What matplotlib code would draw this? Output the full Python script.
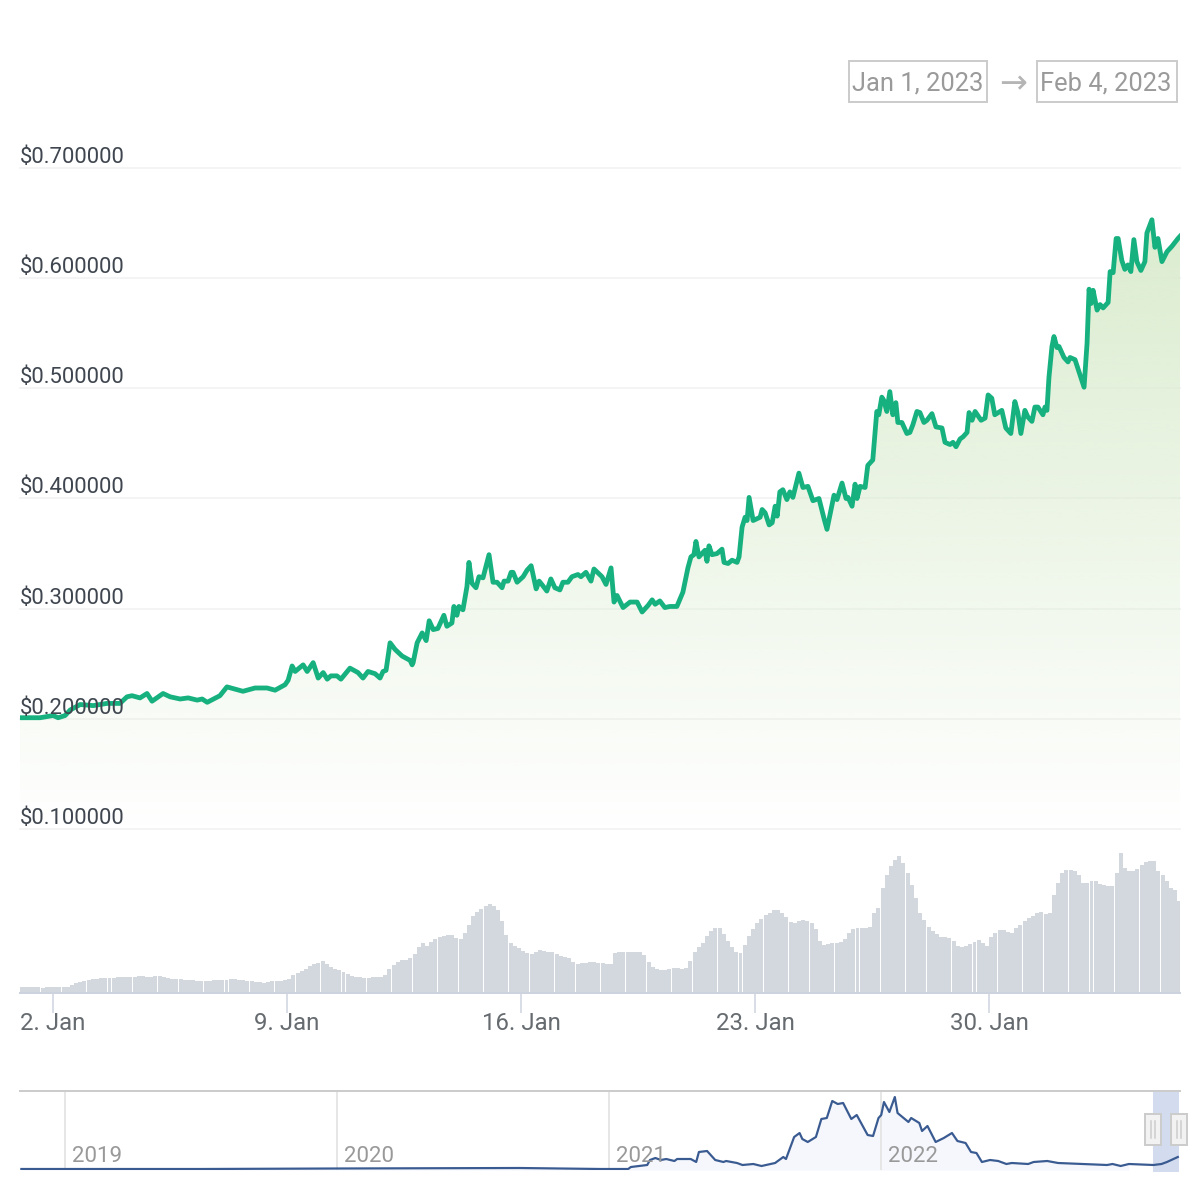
#!/usr/bin/env python
# coding: utf-8

import numpy as np
import matplotlib
matplotlib.use("Agg")
import matplotlib.pyplot as plt
from matplotlib.patches import Rectangle
from matplotlib.lines import Line2D
from matplotlib.colors import to_rgb
from matplotlib.transforms import offset_copy

plt.rcParams['font.family'] = ['Roboto', 'DejaVu Sans']

# price: days since Jan 1 2023, usd
days = [0.01, 0.61, 1.00, 1.15, 1.36, 1.51, 1.81, 2.20, 2.61, 3.00, 3.21, 3.36, 3.60, 3.81, 3.96, 4.29, 4.50, 4.80, 5.04, 5.31,
	5.46, 5.61, 5.99, 6.20, 6.68, 7.04, 7.40, 7.64, 7.94, 8.03, 8.15, 8.24, 8.48, 8.60, 8.78, 8.93, 9.08, 9.20, 9.31, 9.49,
	9.61, 9.88, 10.12, 10.27, 10.42, 10.63, 10.78, 10.87, 10.96, 11.08, 11.23, 11.44, 11.68, 11.74, 11.77, 11.89, 12.04, 12.16, 12.25, 12.37,
	12.51, 12.69, 12.78, 12.93, 12.99, 13.08, 13.14, 13.26, 13.38, 13.44, 13.53, 13.65, 13.74, 13.86, 14.04, 14.16, 14.28, 14.43, 14.49, 14.61,
	14.70, 14.76, 14.88, 15.06, 15.18, 15.30, 15.45, 15.54, 15.62, 15.77, 15.89, 16.01, 16.16, 16.25, 16.40, 16.52, 16.70, 16.79, 16.94, 17.09,
	17.18, 17.42, 17.54, 17.69, 17.78, 17.87, 18.05, 18.26, 18.47, 18.62, 18.80, 18.92, 19.01, 19.15, 19.30, 19.45, 19.66, 19.84, 19.99, 20.08,
	20.17, 20.23, 20.32, 20.50, 20.56, 20.62, 20.71, 20.86, 21.01, 21.07, 21.19, 21.31, 21.46, 21.52, 21.61, 21.70, 21.76, 21.82, 21.94, 22.15,
	22.21, 22.30, 22.42, 22.51, 22.60, 22.66, 22.74, 22.83, 22.95, 23.04, 23.13, 23.31, 23.43, 23.58, 23.73, 23.91, 24.06, 24.15, 24.36, 24.45,
	24.60, 24.72, 24.78, 24.90, 24.99, 25.05, 25.14, 25.29, 25.37, 25.52, 25.64, 25.70, 25.79, 25.85, 25.94, 26.03, 26.12, 26.21, 26.27, 26.39,
	26.54, 26.63, 26.72, 26.84, 26.93, 27.05, 27.14, 27.29, 27.41, 27.59, 27.68, 27.83, 27.92, 28.01, 28.13, 28.22, 28.34, 28.40, 28.49, 28.58,
	28.76, 28.88, 28.97, 29.08, 29.17, 29.38, 29.50, 29.65, 29.77, 29.86, 29.95, 30.07, 30.16, 30.28, 30.37, 30.46, 30.61, 30.67, 30.73, 30.79,
	30.88, 30.94, 31.03, 31.09, 31.24, 31.36, 31.42, 31.57, 31.72, 31.84, 31.93, 31.99, 32.05, 32.11, 32.23, 32.32, 32.41, 32.56, 32.62, 32.71,
	32.80, 32.86, 32.97, 33.06, 33.15, 33.24, 33.33, 33.42, 33.54, 33.66, 33.72, 33.87, 33.96, 34.05, 34.17, 34.32, 34.47, 34.65, 34.71]
price = [.201, .201, .203, .201, .203, .208, .213, .212, .214, .214, .220, .221, .219, .223, .216, .223, .220, .218, .219, .217,
	.218, .215, .221, .229, .225, .228, .228, .226, .231, .235, .248, .243, .249, .243, .251, .237, .242, .236, .239, .239,
	.236, .246, .242, .237, .243, .241, .237, .243, .244, .269, .263, .257, .253, .249, .251, .269, .278, .271, .289, .281,
	.282, .294, .284, .287, .302, .294, .302, .299, .320, .342, .323, .319, .329, .328, .349, .324, .324, .319, .325, .325,
	.333, .333, .324, .329, .335, .339, .318, .325, .322, .316, .327, .319, .317, .324, .324, .329, .331, .329, .333, .325,
	.336, .329, .322, .337, .306, .312, .301, .306, .306, .297, .303, .308, .304, .307, .301, .302, .302, .315, .337, .347,
	.349, .361, .347, .353, .343, .357, .349, .350, .354, .342, .341, .344, .342, .347, .374, .383, .380, .401, .380, .383,
	.390, .387, .376, .378, .393, .384, .406, .408, .399, .406, .401, .423, .410, .411, .398, .400, .382, .372, .403, .399,
	.414, .400, .401, .393, .413, .400, .411, .410, .430, .435, .479, .476, .492, .489, .479, .497, .476, .487, .469, .469,
	.459, .460, .467, .479, .478, .469, .471, .477, .465, .464, .451, .449, .451, .447, .454, .456, .460, .478, .471, .479,
	.471, .473, .494, .491, .476, .480, .464, .459, .488, .478, .459, .480, .474, .470, .483, .483, .476, .483, .480, .510,
	.538, .547, .537, .538, .528, .524, .528, .526, .512, .501, .541, .590, .577, .589, .571, .576, .573, .578, .606, .605,
	.636, .636, .616, .608, .612, .606, .635, .615, .607, .615, .641, .653, .628, .636, .615, .624, .629, .636, .638]

# volume, no scale on the chart so relative units, one bar per 3 hours
volume = [6, 6, 6, 6, 6, 5, 6, 6, 6, 6, 6, 6, 8, 10, 11, 12, 13, 14, 14, 15,
	15, 15, 15, 16, 16, 16, 16, 16, 17, 17, 16, 16, 17, 17, 16, 15, 14, 14, 14, 13,
	13, 13, 12, 12, 12, 12, 13, 13, 13, 13, 14, 14, 13, 13, 12, 12, 11, 11, 10, 11,
	12, 12, 12, 13, 14, 18, 20, 22, 24, 27, 29, 30, 32, 29, 26, 24, 23, 21, 19, 17,
	16, 16, 15, 15, 16, 16, 16, 18, 24, 28, 31, 33, 33, 35, 39, 46, 50, 47, 51, 54,
	56, 57, 58, 58, 55, 54, 60, 68, 77, 81, 84, 87, 89, 87, 83, 72, 58, 50, 47, 45,
	42, 40, 39, 41, 43, 42, 41, 41, 39, 37, 36, 35, 31, 29, 30, 30, 31, 31, 30, 30,
	29, 29, 40, 41, 41, 41, 41, 41, 41, 38, 31, 26, 24, 23, 23, 24, 25, 25, 24, 25,
	32, 41, 46, 50, 57, 62, 65, 65, 59, 52, 46, 41, 40, 48, 57, 64, 70, 74, 78, 80,
	83, 83, 80, 76, 71, 70, 72, 73, 72, 70, 64, 52, 48, 49, 50, 50, 51, 54, 60, 64,
	65, 65, 65, 66, 80, 85, 105, 118, 127, 133, 137, 130, 120, 108, 95, 80, 73, 66, 62, 59,
	56, 56, 55, 52, 47, 46, 47, 49, 51, 53, 50, 47, 56, 60, 63, 63, 61, 60, 65, 68,
	72, 75, 77, 80, 81, 79, 80, 98, 110, 120, 123, 123, 122, 118, 110, 110, 112, 112, 109, 108,
	107, 107, 120, 140, 125, 122, 122, 124, 128, 131, 132, 132, 122, 118, 112, 105, 103, 92]
vol_step = 0.125

# navigator, long history in relative units
nav_year = [2018.84, 2019.5, 2020.0, 2020.67, 2020.97, 2021.07, 2021.08, 2021.14, 2021.15, 2021.17, 2021.19, 2021.21, 2021.24, 2021.25, 2021.30,
	2021.32, 2021.33, 2021.36, 2021.39, 2021.42, 2021.43, 2021.47, 2021.49, 2021.53, 2021.56, 2021.61, 2021.64, 2021.65, 2021.68, 2021.70,
	2021.71, 2021.73, 2021.76, 2021.78, 2021.80, 2021.82, 2021.84, 2021.86, 2021.89, 2021.91, 2021.95, 2021.97, 2021.99, 2022.00, 2022.01,
	2022.03, 2022.05, 2022.06, 2022.10, 2022.11, 2022.14, 2022.15, 2022.17, 2022.20, 2022.23, 2022.26, 2022.28, 2022.31, 2022.33, 2022.35,
	2022.37, 2022.40, 2022.43, 2022.46, 2022.48, 2022.54, 2022.56, 2022.61, 2022.65, 2022.74, 2022.83, 2022.85, 2022.88, 2022.91, 2023.00,
	2023.03, 2023.05, 2023.09]
nav_price = [1, 1, 1.5, 2, 1, 1, 3, 5, 10, 12, 10, 11, 9, 11, 11,
	8, 18, 19, 10, 8, 9, 7, 5, 6, 4, 7, 13, 11, 33, 37,
	31, 28, 33, 51, 52, 69, 66, 67, 51, 55, 35, 34, 52, 55, 68,
	58, 73, 57, 48, 52, 47, 39, 44, 28, 32, 37, 29, 27, 18, 17,
	8, 10, 9, 6, 7, 6, 8, 9, 7, 6, 5, 6, 4, 6, 5,
	6, 8, 13]

price_ticks = [0.1, 0.2, 0.3, 0.4, 0.5, 0.6, 0.7]
date_ticks = [1, 8, 15, 22, 29]
date_labels = ["2. Jan", "9. Jan", "16. Jan", "23. Jan", "30. Jan"]
nav_years = [2019, 2020, 2021, 2022]
start_label = "Jan 1, 2023"
end_label = "Feb 4, 2023"

W = H = 1200.0
PT = 0.72  # points per pixel at dpi 100

fig = plt.figure(figsize=(12, 12), dpi=100, facecolor="white")

def box(left, top, right, bottom):
	a = fig.add_axes([left / W, 1 - bottom / H, (right - left) / W, (bottom - top) / H])
	a.patch.set_alpha(0)
	for s in a.spines.values():
		s.set_visible(False)
	return a

def rect(left, top, right, bottom, **kw):
	fig.add_artist(Rectangle((left / W, 1 - bottom / H), (right - left) / W, (bottom - top) / H,
		transform=fig.transFigure, **kw))

XMIN, XMAX = 0.01, 34.71

# price chart
ax = box(20, 130, 1180, 829)
y_per_px = 0.6 / (829 - 168)
ax.set_xlim(XMIN, XMAX)
ax.set_ylim(0.1, 0.1 + (829 - 130) * y_per_px)
ax.set_xticks([])
ax.set_yticks([])

for v in price_ticks:
	ax.axhline(v, color="#f4f4f4", lw=2 * PT, zorder=1, clip_on=False)

area = ax.fill_between(days, price, 0.1, color="none", zorder=2)
base = to_rgb("#dbeccf")
grad = np.linspace(0, 1, 256).reshape(-1, 1)
img = np.zeros((256, 1, 4))
img[..., 0] = base[0]
img[..., 1] = base[1]
img[..., 2] = base[2]
img[..., 3] = grad[::-1]
im = ax.imshow(img, extent=(XMIN, XMAX, 0.1, 0.653), origin="upper", aspect="auto", zorder=2, interpolation="bilinear")
im.set_clip_path(area.get_paths()[0], ax.transData)
ax.set_xlim(XMIN, XMAX)
ax.set_ylim(0.1, 0.1 + (829 - 130) * y_per_px)

ax.plot(days, price, color="#17b17f", lw=4.8 * PT, solid_joinstyle="round", zorder=3)

label_tr = offset_copy(ax.get_yaxis_transform(), fig=fig, x=0, y=10.5 * PT, units="points")
for v in price_ticks:
	ax.text(0, v, "${:.6f}".format(v), transform=label_tr, ha="left", va="center",
		fontsize=15.9, color="#3f464f", zorder=5)

# volume chart
vax = box(20, 829, 1180, 993)
vax.bar(np.arange(len(volume)) * vol_step + vol_step / 2, volume, width=vol_step * 0.95, color="#d3d8df", linewidth=0)
vax.set_xlim(XMIN, XMAX)
vax.set_ylim(0, 164)
vax.set_yticks([])
vax.spines["bottom"].set_visible(True)
vax.spines["bottom"].set_color("#ccd2de")
vax.spines["bottom"].set_linewidth(2 * PT)
vax.set_xticks(date_ticks)
vax.set_xticklabels(date_labels)
vax.tick_params(axis="x", length=20 * PT, width=1.5 * PT, color="#ccd2de", labelcolor="#666b70", labelsize=17.3, pad=-1)

# selected range sits under the navigator line
rect(1153, 1091, 1179, 1172, facecolor="#d3dcee", edgecolor="none", zorder=-1)

# navigator
nax = box(20, 1091, 1180, 1170)
nax.set_xlim(2018.835, 2023.098)
nax.set_ylim(0, 79)
nax.set_yticks([])
nax.set_xticks([])
for y in nav_years:
	nax.axvline(y, color="#e6e6e6", lw=2 * PT, zorder=1)
	nax.annotate(str(y), (y, 0), xytext=(7 * PT, 14 * PT), textcoords="offset points", ha="left", va="center",
		fontsize=16, color="#999999", zorder=4)
nax.fill_between(nav_year[:-4], nav_price[:-4], 0, color="#f5f7fc", linewidth=0, zorder=0)
nax.plot(nav_year, nav_price, color="#3a5b91", lw=2.2 * PT, zorder=3)
fig.add_artist(Line2D([20 / W, 1180 / W], [1 - 1091 / H] * 2, color="#cccccc", lw=2 * PT, transform=fig.transFigure))

# range handles
for x0 in [1145, 1171]:
	rect(x0, 1114, x0 + 16, 1145, facecolor="#f2f2f2", edgecolor="#cccccc", lw=2 * PT, zorder=7)
	for dx in [6, 10]:
		fig.add_artist(Line2D([(x0 + dx) / W] * 2, [1 - 1121 / H, 1 - 1138 / H], color="#cccccc",
			lw=1.5 * PT, transform=fig.transFigure, zorder=8))

# date range inputs
rect(849, 61, 987, 102, facecolor="white", edgecolor="#cccccc", lw=2 * PT)
rect(1037, 61, 1177, 102, facecolor="white", edgecolor="#cccccc", lw=2 * PT)
fig.text(918 / W, 1 - 84 / H, start_label, ha="center", va="center", fontsize=18.4, color="#9a9a9a")
fig.text(1106 / W, 1 - 84 / H, end_label, ha="center", va="center", fontsize=18.4, color="#9a9a9a")
fig.text(1013 / W, 1 - 84 / H, "\u2192", ha="center", va="center", fontsize=24, color="#b5b5b5")

fig.savefig("out.png", dpi=100)
